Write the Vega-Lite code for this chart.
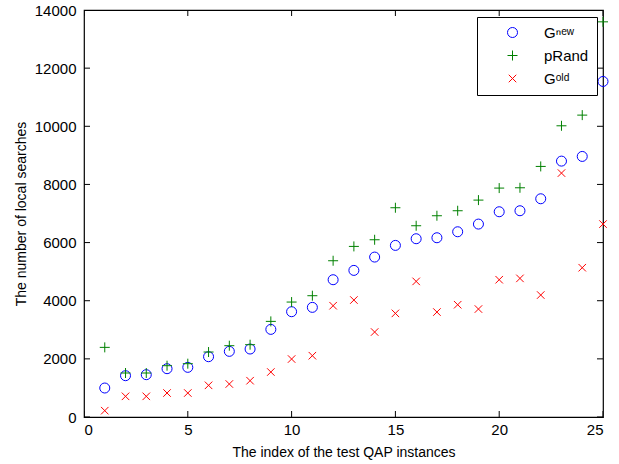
{
  "$schema": "https://vega.github.io/schema/vega-lite/v6.json",
  "width": 519,
  "height": 407,
  "autosize": "none",
  "padding": {"left": 84, "top": 10, "right": 16, "bottom": 47},
  "background": "white",
  "config": {
    "view": {"stroke": "black", "strokeWidth": 1.2},
    "font": "Liberation Sans",
    "axis": {"grid": false, "domain": false, "ticks": false, "labelColor": "black", "titleColor": "black", "labelFont": "Liberation Sans", "titleFont": "Liberation Sans", "labelFontSize": 15, "titleFontSize": 14, "titleFontWeight": "normal"}
  },
  "datasets": {
    "xticks": [{"i":0},{"i":5},{"i":10},{"i":15},{"i":20},{"i":25}],
    "yticks": [{"v":0},{"v":2000},{"v":4000},{"v":6000},{"v":8000},{"v":10000},{"v":12000},{"v":14000}]
  },
  "data": {"values": [
    {"i":1,"s":"Gⁿᵉʷ","v":997},{"i":2,"s":"Gⁿᵉʷ","v":1421},{"i":3,"s":"Gⁿᵉʷ","v":1456},{"i":4,"s":"Gⁿᵉʷ","v":1662},{"i":5,"s":"Gⁿᵉʷ","v":1708},
    {"i":6,"s":"Gⁿᵉʷ","v":2074},{"i":7,"s":"Gⁿᵉʷ","v":2258},{"i":8,"s":"Gⁿᵉʷ","v":2338},{"i":9,"s":"Gⁿᵉʷ","v":3014},{"i":10,"s":"Gⁿᵉʷ","v":3622},
    {"i":11,"s":"Gⁿᵉʷ","v":3771},{"i":12,"s":"Gⁿᵉʷ","v":4722},{"i":13,"s":"Gⁿᵉʷ","v":5043},{"i":14,"s":"Gⁿᵉʷ","v":5501},{"i":15,"s":"Gⁿᵉʷ","v":5903},
    {"i":16,"s":"Gⁿᵉʷ","v":6132},{"i":17,"s":"Gⁿᵉʷ","v":6166},{"i":18,"s":"Gⁿᵉʷ","v":6372},{"i":19,"s":"Gⁿᵉʷ","v":6636},{"i":20,"s":"Gⁿᵉʷ","v":7060},
    {"i":21,"s":"Gⁿᵉʷ","v":7095},{"i":22,"s":"Gⁿᵉʷ","v":7507},{"i":23,"s":"Gⁿᵉʷ","v":8802},{"i":24,"s":"Gⁿᵉʷ","v":8963},{"i":25,"s":"Gⁿᵉʷ","v":11542},
    {"i":1,"s":"pRand","v":2395},{"i":2,"s":"pRand","v":1513},{"i":3,"s":"pRand","v":1513},{"i":4,"s":"pRand","v":1765},{"i":5,"s":"pRand","v":1834},
    {"i":6,"s":"pRand","v":2235},{"i":7,"s":"pRand","v":2453},{"i":8,"s":"pRand","v":2487},{"i":9,"s":"pRand","v":3289},{"i":10,"s":"pRand","v":3954},
    {"i":11,"s":"pRand","v":4172},{"i":12,"s":"pRand","v":5375},{"i":13,"s":"pRand","v":5868},{"i":14,"s":"pRand","v":6097},{"i":15,"s":"pRand","v":7198},
    {"i":16,"s":"pRand","v":6579},{"i":17,"s":"pRand","v":6923},{"i":18,"s":"pRand","v":7095},{"i":19,"s":"pRand","v":7461},{"i":20,"s":"pRand","v":7874},
    {"i":21,"s":"pRand","v":7885},{"i":22,"s":"pRand","v":8619},{"i":23,"s":"pRand","v":10017},{"i":24,"s":"pRand","v":10384},{"i":25,"s":"pRand","v":13593},
    {"i":1,"s":"Gᵒˡᵈ","v":218},{"i":2,"s":"Gᵒˡᵈ","v":711},{"i":3,"s":"Gᵒˡᵈ","v":711},{"i":4,"s":"Gᵒˡᵈ","v":825},{"i":5,"s":"Gᵒˡᵈ","v":825},
    {"i":6,"s":"Gᵒˡᵈ","v":1089},{"i":7,"s":"Gᵒˡᵈ","v":1135},{"i":8,"s":"Gᵒˡᵈ","v":1249},{"i":9,"s":"Gᵒˡᵈ","v":1547},{"i":10,"s":"Gᵒˡᵈ","v":1994},
    {"i":11,"s":"Gᵒˡᵈ","v":2109},{"i":12,"s":"Gᵒˡᵈ","v":3828},{"i":13,"s":"Gᵒˡᵈ","v":4023},{"i":14,"s":"Gᵒˡᵈ","v":2923},{"i":15,"s":"Gᵒˡᵈ","v":3564},
    {"i":16,"s":"Gᵒˡᵈ","v":4665},{"i":17,"s":"Gᵒˡᵈ","v":3610},{"i":18,"s":"Gᵒˡᵈ","v":3862},{"i":19,"s":"Gᵒˡᵈ","v":3713},{"i":20,"s":"Gᵒˡᵈ","v":4722},
    {"i":21,"s":"Gᵒˡᵈ","v":4768},{"i":22,"s":"Gᵒˡᵈ","v":4195},{"i":23,"s":"Gᵒˡᵈ","v":8390},{"i":24,"s":"Gᵒˡᵈ","v":5135},{"i":25,"s":"Gᵒˡᵈ","v":6636}
  ]},
  "layer": [
    {
      "mark": {"type": "point", "filled": false, "strokeWidth": 1, "opacity": 1, "clip": false},
      "encoding": {
        "x": {"field": "i", "type": "quantitative", "scale": {"domain": [0, 25], "nice": false}, "axis": {"orient": "bottom", "values": [0,5,10,15,20,25], "labelPadding": 5, "title": "The index of the test QAP instances", "titlePadding": 8}},
        "y": {"field": "v", "type": "quantitative", "scale": {"domain": [0, 14000], "nice": false}, "axis": {"orient": "left", "values": [0,2000,4000,6000,8000,10000,12000,14000], "format": "d", "labelPadding": 8, "title": "The number of local searches", "titlePadding": 6}},
        "color": {"field": "s", "type": "nominal", "scale": {"domain": ["Gⁿᵉʷ", "pRand", "Gᵒˡᵈ"], "range": ["#0000ff", "#008000", "#ff0000"]},
          "legend": {"title": null, "orient": "none", "legendX": 393, "legendY": 7, "strokeColor": "black", "fillColor": "white", "padding": 8, "symbolOffset": 20, "labelOffset": 24, "labelFontSize": 15, "labelFont": "Liberation Sans", "labelColor": "black", "rowPadding": 7, "symbolStrokeWidth": 1, "symbolSize": 100}},
        "shape": {"field": "s", "type": "nominal", "scale": {"domain": ["Gⁿᵉʷ", "pRand", "Gᵒˡᵈ"], "range": ["circle", "M-1,0L1,0M0,-1L0,1", "M-0.75,-0.75L0.75,0.75M-0.75,0.75L0.75,-0.75"]}},
        "size": {"value": 100}
      }
    },
    {
      "data": {"name": "xticks"},
      "mark": {"type": "tick", "orient": "vertical", "clip": true, "size": 12, "thickness": 1, "color": "black", "opacity": 1},
      "encoding": {
        "x": {"field": "i", "type": "quantitative"},
        "y": {"datum": 0, "type": "quantitative"}
      }
    },
    {
      "data": {"name": "xticks"},
      "mark": {"type": "tick", "orient": "vertical", "clip": true, "size": 12, "thickness": 1, "color": "black", "opacity": 1},
      "encoding": {
        "x": {"field": "i", "type": "quantitative"},
        "y": {"datum": 14000, "type": "quantitative"}
      }
    },
    {
      "data": {"name": "yticks"},
      "mark": {"type": "tick", "orient": "horizontal", "clip": true, "size": 12, "thickness": 1, "color": "black", "opacity": 1},
      "encoding": {
        "y": {"field": "v", "type": "quantitative"},
        "x": {"datum": 0, "type": "quantitative"}
      }
    },
    {
      "data": {"name": "yticks"},
      "mark": {"type": "tick", "orient": "horizontal", "clip": true, "size": 12, "thickness": 1, "color": "black", "opacity": 1},
      "encoding": {
        "y": {"field": "v", "type": "quantitative"},
        "x": {"datum": 25, "type": "quantitative"}
      }
    }
  ]
}
